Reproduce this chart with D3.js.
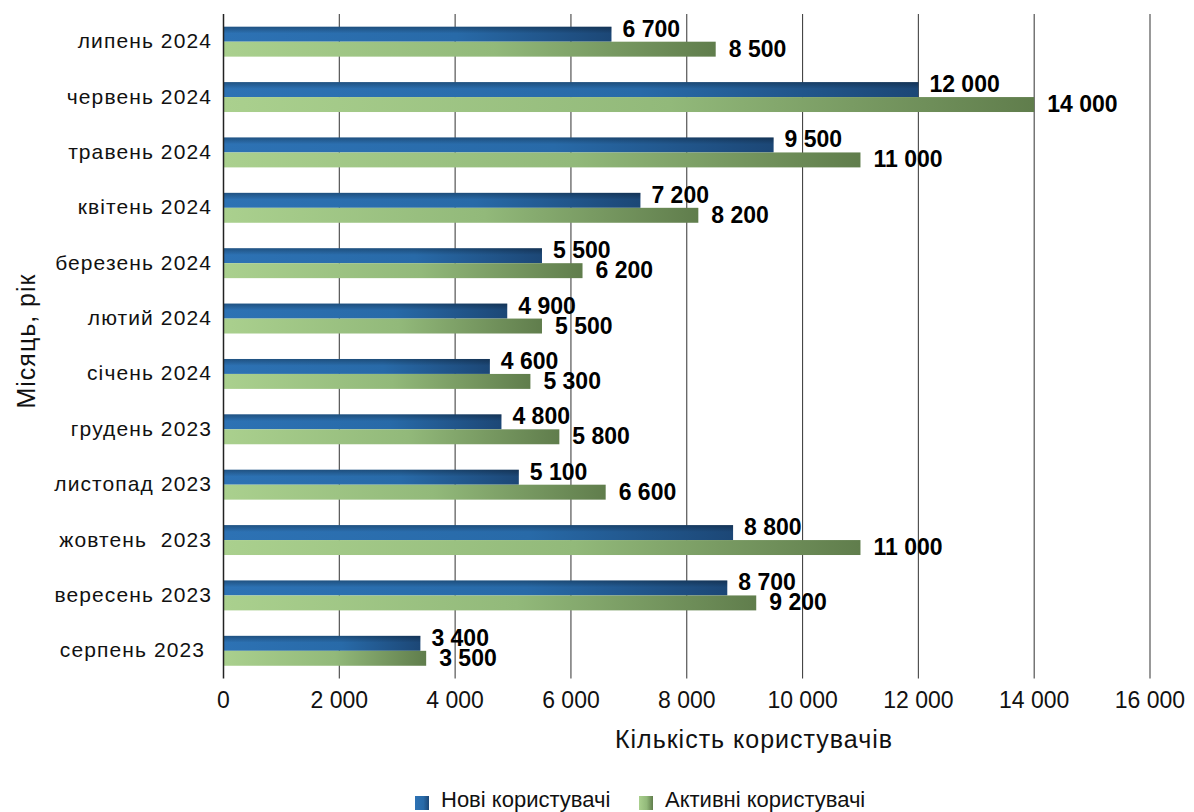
<!DOCTYPE html>
<html>
<head>
<meta charset="utf-8">
<script src="https://cdn.jsdelivr.net/npm/d3@7"></script>
<style>
  body { margin: 0; background: #fff; }
  text { font-family: "Liberation Sans", Arial, sans-serif; white-space: pre; }
</style>
</head>
<body>
<svg id="chart" width="1194" height="812"></svg>
<script>
const months = ["липень 2024", "червень 2024", "травень 2024", "квітень 2024", "березень 2024",
  "лютий 2024", "січень 2024", "грудень 2023", "листопад 2023", "жовтень  2023",
  "вересень 2023", "серпень 2023 "];
const newUsers = [6700, 12000, 9500, 7200, 5500, 4900, 4600, 4800, 5100, 8800, 8700, 3400];
const activeUsers = [8500, 14000, 11000, 8200, 6200, 5500, 5300, 5800, 6600, 11000, 9200, 3500];
const xTicks = [0, 2000, 4000, 6000, 8000, 10000, 12000, 14000, 16000];
const seriesNames = ["Нові користувачі", "Активні користувачі"];

const svg = d3.select("#chart");
const fmt = v => d3.format(",")(v).replace(/,/g, " ");

const x = d3.scaleLinear().domain([0, 16000]).range([223.5, 1150]);
const y = d3.scaleBand().domain(months).range([14, 678.5]).paddingInner(0.46).paddingOuter(0.23);
const BAR_H = y.bandwidth() / 2;

// gradients
const defs = svg.append("defs");
const gBlue = defs.append("linearGradient").attr("id", "gBlue");
gBlue.append("stop").attr("offset", "0%").attr("stop-color", "#2d72b4");
gBlue.append("stop").attr("offset", "60%").attr("stop-color", "#286aa8");
gBlue.append("stop").attr("offset", "100%").attr("stop-color", "#1c4776");
const gGreen = defs.append("linearGradient").attr("id", "gGreen");
gGreen.append("stop").attr("offset", "0%").attr("stop-color", "#aad08e");
gGreen.append("stop").attr("offset", "55%").attr("stop-color", "#92b97a");
gGreen.append("stop").attr("offset", "100%").attr("stop-color", "#607d4c");
const gShade = defs.append("linearGradient").attr("id", "gShade")
  .attr("x1", 0).attr("y1", 0).attr("x2", 0).attr("y2", 1);
gShade.append("stop").attr("offset", "0%").attr("stop-color", "#000").attr("stop-opacity", 0.28);
gShade.append("stop").attr("offset", "45%").attr("stop-color", "#000").attr("stop-opacity", 0);
gShade.append("stop").attr("offset", "100%").attr("stop-color", "#000").attr("stop-opacity", 0);

// gridlines
svg.append("g").selectAll("line").data(xTicks.slice(1)).join("line")
  .attr("x1", d => x(d)).attr("x2", d => x(d))
  .attr("y1", 14).attr("y2", 678.5)
  .attr("stroke", "#444").attr("stroke-width", 1.1);

// x tick labels
svg.append("g").selectAll("text").data(xTicks).join("text")
  .attr("x", d => x(d)).attr("y", 708)
  .attr("text-anchor", "middle")
  .attr("font-size", 23).attr("fill", "#111")
  .text(fmt);

// bars
const rows = months.map((m, i) => ({ m, a: newUsers[i], b: activeUsers[i] }));
const grp = svg.append("g");
grp.selectAll("rect.a").data(rows).join("rect").attr("class", "a")
  .attr("x", x(0)).attr("y", d => y(d.m))
  .attr("width", d => x(d.a) - x(0)).attr("height", BAR_H)
  .attr("fill", "url(#gBlue)");
grp.selectAll("rect.as").data(rows).join("rect").attr("class", "as")
  .attr("x", x(0)).attr("y", d => y(d.m))
  .attr("width", d => x(d.a) - x(0)).attr("height", BAR_H)
  .attr("fill", "url(#gShade)");
grp.selectAll("rect.b").data(rows).join("rect").attr("class", "b")
  .attr("x", x(0)).attr("y", d => y(d.m) + BAR_H)
  .attr("width", d => x(d.b) - x(0)).attr("height", BAR_H)
  .attr("fill", "url(#gGreen)");

// value labels
grp.selectAll("text.la").data(rows).join("text").attr("class", "la")
  .attr("x", d => x(d.a) + 11).attr("y", d => y(d.m) + BAR_H - 5)
  .attr("font-size", 23).attr("font-weight", "bold").attr("fill", "#000")
  .text(d => fmt(d.a));
grp.selectAll("text.lb").data(rows).join("text").attr("class", "lb")
  .attr("x", d => x(d.b) + 13).attr("y", d => y(d.m) + 2 * BAR_H)
  .attr("font-size", 23).attr("font-weight", "bold").attr("fill", "#000")
  .text(d => fmt(d.b));

// y axis line
svg.append("line").attr("x1", x(0)).attr("x2", x(0)).attr("y1", 14).attr("y2", 678.5)
  .attr("stroke", "#222").attr("stroke-width", 1.5);

// category labels
svg.append("g").selectAll("text").data(months).join("text")
  .attr("x", 212).attr("y", d => y(d) + BAR_H + 6.5)
  .attr("text-anchor", "end")
  .attr("font-size", 21).attr("letter-spacing", 1.1).attr("fill", "#111")
  .text(d => d);

// axis titles
svg.append("text").attr("x", 754).attr("y", 748)
  .attr("text-anchor", "middle")
  .attr("font-size", 25).attr("letter-spacing", 1).attr("fill", "#111")
  .text("Кількість користувачів");
svg.append("text").attr("transform", "translate(35,341) rotate(-90)")
  .attr("text-anchor", "middle")
  .attr("font-size", 25).attr("letter-spacing", 1).attr("fill", "#111")
  .text("Місяць, рік");

// legend
const legend = svg.append("g");
const legX = [415, 639];
const legFill = ["url(#gBlue)", "url(#gGreen)"];
seriesNames.forEach((s, i) => {
  legend.append("rect").attr("x", legX[i]).attr("y", 796).attr("width", 14).attr("height", 14)
    .attr("fill", legFill[i]);
  legend.append("text").attr("x", legX[i] + 26).attr("y", 807)
    .attr("font-size", 22).attr("fill", "#111")
    .text(s);
});
</script>
</body>
</html>
